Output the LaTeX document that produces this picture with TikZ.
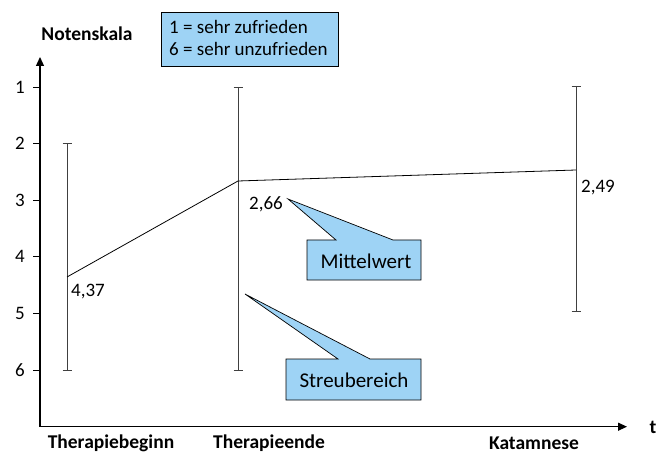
\documentclass[tikz,border=0pt]{standalone}
\usepackage{fontspec}
\setmainfont{Carlito}
\usetikzlibrary{arrows.meta}
\definecolor{callblue}{RGB}{158,211,245}
\begin{document}
\begin{tikzpicture}[x=1pt,y=-1pt,
  lbl/.style={font=\fontsize{19}{22}\selectfont, inner sep=0pt},
  biglbl/.style={font=\fontsize{21}{24}\selectfont, inner sep=0pt},
  blbl/.style={font=\fontsize{19.5}{22}\selectfont\bfseries, inner sep=0pt},
  axis/.style={line width=1.2pt, -{Triangle[length=9pt,width=8pt]}},
  bar/.style={line width=0.9pt, draw=black!75},
  callbox/.style={draw=black, line width=0.7pt, fill=callblue},
  meanline/.style={line width=0.8pt}]
\useasboundingbox (0,0) rectangle (666,454);
% axes
\coordinate (O) at (40,426.7);
\coordinate (ytop) at (40,57);
\coordinate (xend) at (627,426.7);
\draw[axis] (O) -- (ytop);
\draw[axis] (O) -- (xend);
\node[blbl] (ylab) at (87,34) {Notenskala};
\node[blbl] (tlab) at (653,427) {t};
% ticks
\foreach \v/\y in {1/87,2/143.6,3/200.2,4/256.8,5/313.4,6/370} {
  \draw[line width=0.9pt] (33,\y) -- (40,\y);
  \node[lbl] (tick\v) at (20,\y) {\v};
}
% legend
\node[callbox, minimum width=177pt, minimum height=54pt, anchor=north west, inner sep=0pt] (legend) at (161,12) {};
\node[lbl, anchor=west] (leg1) at (169,27) {1 = sehr zufrieden};
\node[lbl, anchor=west] (leg2) at (169,49) {6 = sehr unzufrieden};
% error bars
\coordinate (b1t) at (67,143.6);
\coordinate (b1b) at (67,370);
\coordinate (b2t) at (238,87);
\coordinate (b2b) at (238,370);
\coordinate (b3t) at (576,86);
\coordinate (b3b) at (576,311);
\foreach \t/\b in {b1t/b1b,b2t/b2b,b3t/b3b} {
  \draw[bar] (\t) -- (\b);
  \draw[bar] ([xshift=-4.5pt]\t) -- ([xshift=4.5pt]\t);
  \draw[bar] ([xshift=-4.5pt]\b) -- ([xshift=4.5pt]\b);
}
% mean line
\coordinate (m1) at (67,277);
\coordinate (m2) at (238,181);
\coordinate (m3) at (576,170);
\draw[meanline] (m1) -- (m2) -- (m3);
\node[lbl, anchor=west] (v1) at (71,292) {4,37};
\node[lbl, anchor=west] (v2) at (249,204) {2,66};
\node[lbl, anchor=west] (v3) at (581,188) {2,49};
% callout Mittelwert
\coordinate (mtip) at (288,199);
\draw[callbox] (307,240) -- (336,240) -- (mtip) -- (393,240) -- (421,240) -- (421,280) -- (307,280) -- cycle;
\node[biglbl] (mw) at (366,261) {Mittelwert};
% callout Streubereich
\coordinate (stip) at (245,294);
\draw[callbox] (286,359) -- (338,359) -- (stip) -- (370,359) -- (421,359) -- (421,400) -- (286,400) -- cycle;
\node[biglbl] (sb) at (354,380) {Streubereich};
% category labels
\node[blbl] (c1) at (111,443) {Therapiebeginn};
\node[blbl] (c2) at (269,443) {Therapieende};
\node[blbl] (c3) at (534,443) {Katamnese};
\end{tikzpicture}
\end{document}
